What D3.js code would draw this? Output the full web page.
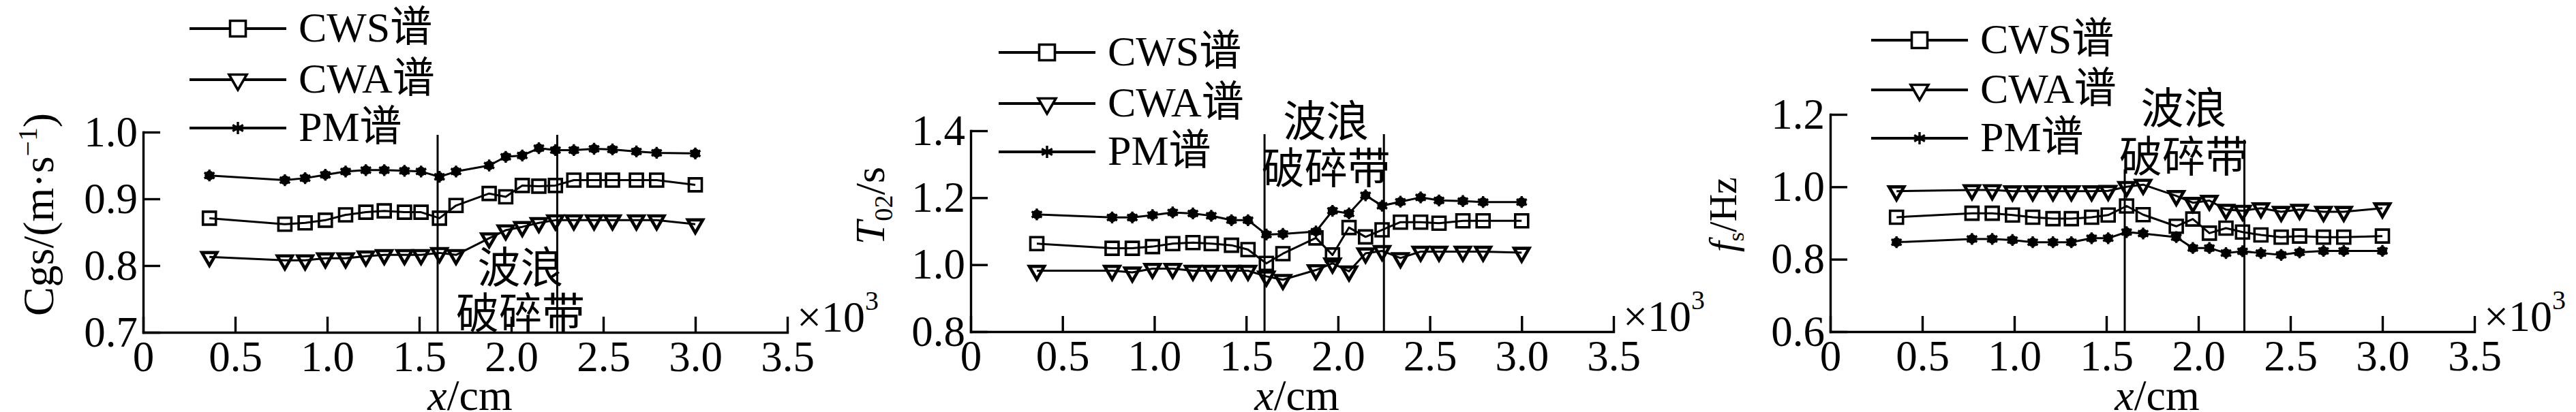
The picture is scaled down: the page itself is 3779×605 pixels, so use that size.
<!DOCTYPE html>
<html>
<head>
<meta charset="utf-8">
<script src="https://cdn.jsdelivr.net/npm/d3@7"></script>
<style>
body { margin: 0; background: #fff; }
text { fill: #000; }
</style>
</head>
<body>
<div id="chart"></div>
<script>
const W = 3779, H = 605;
const serif = '"Liberation Serif", "Times New Roman", "Noto Sans CJK SC", serif';
const cjk = '"Noto Sans CJK SC", sans-serif';

// shared x positions (x10^3 cm) and ticks
const xs = [0.36, 0.77, 0.88, 0.99, 1.10, 1.21, 1.31, 1.42, 1.51, 1.61, 1.70, 1.88, 1.97, 2.06, 2.15, 2.24, 2.34, 2.45, 2.55, 2.68, 2.79, 3.00];
const xTicks = [0, 0.5, 1.0, 1.5, 2.0, 2.5, 3.0, 3.5];
const seriesNames = ["CWS谱", "CWA谱", "PM谱"];
const breakX = [1.6, 2.25];
const noteLines = ["波浪", "破碎带"];

// panel 1: Cgs
const cgsTicks = [0.7, 0.8, 0.9, 1.0];
const cgsCWS = [0.871, 0.862, 0.864, 0.868, 0.876, 0.880, 0.882, 0.880, 0.880, 0.871, 0.890, 0.908, 0.903, 0.920, 0.919, 0.920, 0.928, 0.928, 0.928, 0.928, 0.928, 0.921];
const cgsCWA = [0.813, 0.808, 0.808, 0.811, 0.811, 0.814, 0.816, 0.816, 0.816, 0.819, 0.816, 0.841, 0.853, 0.858, 0.864, 0.868, 0.868, 0.868, 0.868, 0.868, 0.868, 0.862];
const cgsPM  = [0.935, 0.928, 0.931, 0.936, 0.941, 0.943, 0.943, 0.942, 0.941, 0.933, 0.941, 0.950, 0.963, 0.965, 0.976, 0.973, 0.973, 0.975, 0.974, 0.971, 0.969, 0.968];

// panel 2: T02
const t02Ticks = [0.8, 1.0, 1.2, 1.4];
const t02CWS = [1.063, 1.049, 1.049, 1.054, 1.063, 1.066, 1.063, 1.058, 1.045, 1.004, 1.033, 1.080, 1.029, 1.111, 1.083, 1.104, 1.127, 1.127, 1.124, 1.131, 1.131, 1.131];
const t02CWA = [0.982, 0.982, 0.977, 0.988, 0.988, 0.982, 0.982, 0.982, 0.982, 0.965, 0.955, 0.984, 1.004, 0.980, 1.034, 1.041, 1.020, 1.039, 1.039, 1.039, 1.039, 1.036];
const t02PM  = [1.150, 1.141, 1.141, 1.148, 1.156, 1.153, 1.146, 1.133, 1.133, 1.090, 1.092, 1.099, 1.161, 1.153, 1.207, 1.176, 1.188, 1.201, 1.192, 1.190, 1.187, 1.187];

// panel 3: fs
const fsTicks = [0.6, 0.8, 1.0, 1.2];
const fsCWS = [0.916, 0.927, 0.927, 0.922, 0.916, 0.912, 0.912, 0.916, 0.922, 0.947, 0.923, 0.891, 0.911, 0.872, 0.886, 0.875, 0.867, 0.861, 0.864, 0.861, 0.861, 0.864];
const fsCWA = [0.988, 0.991, 0.991, 0.988, 0.988, 0.988, 0.988, 0.988, 0.989, 1.000, 1.006, 0.975, 0.956, 0.962, 0.937, 0.934, 0.941, 0.931, 0.937, 0.931, 0.931, 0.941];
const fsPM  = [0.847, 0.856, 0.856, 0.853, 0.847, 0.847, 0.847, 0.858, 0.858, 0.875, 0.871, 0.861, 0.831, 0.831, 0.817, 0.822, 0.817, 0.812, 0.819, 0.823, 0.823, 0.823];

const panels = [
	{
		series: [cgsCWS, cgsCWA, cgsPM], yTicks: cgsTicks,
		left: 210, right: 1155, top: 194, bottom: 488,
		legendX: 278, legendY: [42, 117, 188],
		breakTop: [0.996, 0.996], noteX: 2.05, noteY: [415, 482],
		label: { x: 78, y: 315, size: 64, parts: [{ t: "C" }, { t: "gs" }, { t: "/(m·s" }, { t: "−1", sup: true }, { t: ")" }] }
	},
	{
		series: [t02CWS, t02CWA, t02PM], yTicks: t02Ticks,
		left: 1424, right: 2367, top: 192, bottom: 487,
		legendX: 1465, legendY: [77, 152, 223],
		breakTop: [1.39, 1.39], noteX: 1.935, noteY: [200, 269],
		label: { x: 1297, y: 302, size: 62, parts: [{ t: "T", it: true }, { t: "02", sub: true }, { t: "/s" }] }
	},
	{
		series: [fsCWS, fsCWA, fsPM], yTicks: fsTicks,
		left: 2685, right: 3630, top: 168, bottom: 487,
		legendX: 2745, legendY: [59, 132, 203],
		breakTop: [1.048, 1.13], noteX: 1.92, noteY: [181, 252],
		label: { x: 2547, y: 315, size: 56, parts: [{ t: "f", it: true }, { t: "s", sub: true }, { t: "/Hz" }] }
	}
];

const markerTypes = ["square", "tri", "star"];

const svg = d3.select("#chart").append("svg")
	.attr("width", W)
	.attr("height", H)
	.style("background", "#fff");

function drawMarker(sel, type, legend) {
	let fill = legend ? "#fff" : "none";
	if (type === "square") {
		let s = legend ? 23 : 19;
		sel.append("path")
			.attr("d", d3.symbol(d3.symbolSquare, s * s)())
			.attr("fill", fill).attr("stroke", "#000").attr("stroke-width", 3.6);
	} else if (type === "tri") {
		let side = legend ? 26 : 22;
		let area = Math.sqrt(3) / 4 * side * side;
		sel.append("path")
			.attr("d", d3.symbol(d3.symbolTriangle, area)())
			.attr("transform", "rotate(180)")
			.attr("fill", fill).attr("stroke", "#000").attr("stroke-width", legend ? 3.6 : 4.6);
	} else {
		sel.append("circle").attr("r", legend ? 4 : 7).attr("fill", "#000");
		sel.append("path")
			.attr("d", d3.symbol(d3.symbolAsterisk, legend ? 230 : 210)())
			.attr("fill", "none").attr("stroke", "#000").attr("stroke-width", 3.4);
	}
}

panels.forEach(p => {
	const x = d3.scaleLinear().domain([0, 3.5]).range([p.left, p.right]);
	const y = d3.scaleLinear().domain(d3.extent(p.yTicks)).range([p.bottom, p.top]);
	const g = svg.append("g");

	// axes
	g.append("g")
		.attr("transform", `translate(0,${p.bottom})`)
		.call(d3.axisBottom(x).tickValues(xTicks).tickSize(-23).tickSizeOuter(0).tickPadding(12)
			.tickFormat(d => d === 0 ? "0" : d.toFixed(1)))
		.attr("font-family", serif).attr("font-size", 63)
		.call(a => a.select(".domain").attr("stroke-width", 3.4).attr("stroke-linecap", "square"))
		.call(a => a.selectAll(".tick line").attr("stroke-width", 3.4));

	g.append("g")
		.attr("transform", `translate(${p.left},0)`)
		.call(d3.axisLeft(y).tickValues(p.yTicks).tickSize(-25).tickSizeOuter(0).tickPadding(8)
			.tickFormat(d3.format(".1f")))
		.attr("font-family", serif).attr("font-size", 63)
		.call(a => a.select(".domain").attr("stroke-width", 3.4).attr("stroke-linecap", "square"))
		.call(a => a.selectAll(".tick line").attr("stroke-width", 3.4));

	// breaking zone lines
	g.selectAll(".brk")
		.data(breakX)
		.enter()
		.append("line")
		.attr("x1", d => x(d)).attr("x2", d => x(d))
		.attr("y1", y.range()[0]).attr("y2", (d, i) => y(p.breakTop[i]))
		.attr("stroke", "#000").attr("stroke-width", 3);

	// series
	const line = d3.line().x((d, i) => x(xs[i])).y(d => y(d));
	p.series.forEach((vals, si) => {
		g.append("path")
			.datum(vals)
			.attr("d", line)
			.attr("fill", "none").attr("stroke", "#000").attr("stroke-width", 3)
			.attr("stroke-linejoin", "round");
		g.append("g")
			.selectAll("g")
			.data(vals)
			.enter()
			.append("g")
			.attr("transform", (d, i) => `translate(${x(xs[i])},${y(d)})`)
			.each(function () { drawMarker(d3.select(this), markerTypes[si], false); });
	});

	// legend
	seriesNames.forEach((name, si) => {
		let ly = p.legendY[si];
		let lg = g.append("g");
		lg.append("line")
			.attr("x1", p.legendX).attr("x2", p.legendX + 142)
			.attr("y1", ly).attr("y2", ly)
			.attr("stroke", "#000").attr("stroke-width", 4);
		drawMarker(lg.append("g").attr("transform", `translate(${p.legendX + 71},${ly})`), markerTypes[si], true);
		lg.append("text")
			.attr("x", p.legendX + 160).attr("y", ly + 19)
			.attr("font-family", serif).attr("font-size", 62)
			.text(name);
	});

	// breaking zone note
	noteLines.forEach((t, i) => {
		g.append("text")
			.attr("x", x(p.noteX)).attr("y", p.noteY[i])
			.attr("text-anchor", "middle")
			.attr("font-family", cjk).attr("font-size", 63)
			.text(t);
	});

	// x10^3
	let mult = g.append("text")
		.attr("x", p.right + 14).attr("y", p.bottom - 1)
		.attr("font-family", serif).attr("font-size", 64);
	mult.append("tspan").text("×10");
	mult.append("tspan").attr("font-size", 40).attr("dy", -32).text("3");

	// x label
	let xl = g.append("text")
		.attr("x", (p.left + p.right) / 2 + 7).attr("y", 602)
		.attr("text-anchor", "middle")
		.attr("font-family", serif).attr("font-size", 64);
	xl.append("tspan").attr("font-style", "italic").text("x");
	xl.append("tspan").text("/cm");

	// y label
	let lab = p.label;
	let yl = g.append("text")
		.attr("transform", `translate(${lab.x},${lab.y}) rotate(-90)`)
		.attr("text-anchor", "middle")
		.attr("font-family", serif).attr("font-size", lab.size);
	let shift = 0;
	lab.parts.forEach(part => {
		let ts = yl.append("tspan").text(part.t);
		let target = 0;
		if (part.it) ts.attr("font-style", "italic");
		if (part.sup) { ts.attr("font-size", lab.size * 0.62); target = -lab.size * 0.38; }
		if (part.sub) { ts.attr("font-size", lab.size * 0.62); target = lab.size * 0.2; }
		if (target !== shift) { ts.attr("dy", target - shift); shift = target; }
	});
});
</script>
</body>
</html>
